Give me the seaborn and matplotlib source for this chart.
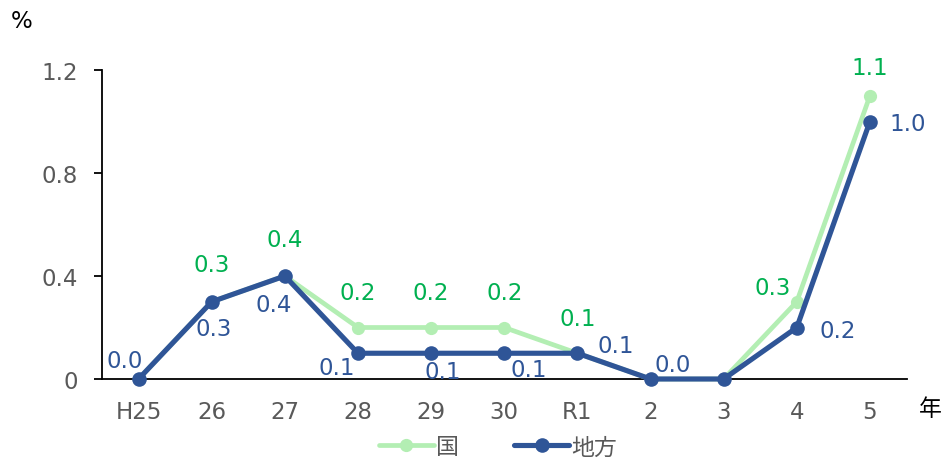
import matplotlib
matplotlib.use("Agg")
import matplotlib.pyplot as plt
import seaborn as sns
import pandas as pd
from matplotlib.lines import Line2D

categories = ["H25", "26", "27", "28", "29", "30", "R1", "2", "3", "4", "5"]
kuni = [0.0, 0.3, 0.4, 0.2, 0.2, 0.2, 0.1, 0.0, 0.0, 0.3, 1.1]
chiho = [0.0, 0.3, 0.4, 0.1, 0.1, 0.1, 0.1, 0.0, 0.0, 0.2, 1.0]
series_names = ["国", "地方"]
yticks = [0, 0.4, 0.8, 1.2]
ytick_labels = ["0", "0.4", "0.8", "1.2"]

# label display and pixel offsets for placement
kuni_show = [False, True, True, True, True, True, True, False, False, True, True]
kuni_off = [(0, 0), (0, 37), (0, 36), (0, 35), (0, 35), (0, 35), (0, 35),
            (0, 0), (0, 0), (-24, 14), (0, 28)]
chiho_show = [True, True, True, True, True, True, True, True, False, True, True]
chiho_off = [(-14, 18), (2, -27), (-11, -29), (-21, -14), (12, -18), (24, -16),
             (38, 8), (22, 14), (0, 0), (41, -3), (38, -2)]

sns.set_style("ticks")
plt.rcParams["font.family"] = ["DejaVu Sans", "Noto Sans CJK JP"]

GREEN_LINE = "#B3EEB3"
GREEN_TXT = "#00B050"
BLUE = "#2F5597"
GRAY = "#595959"
FS = 16.5

fig = plt.figure(figsize=(9.42, 4.6), dpi=100)
ax = fig.add_axes([102 / 942, 80 / 460, (906.5 - 102) / 942, (380 - 71) / 460])

df = pd.DataFrame({
    "cat": categories * 2,
    "val": kuni + chiho,
    "series": [series_names[0]] * len(categories) + [series_names[1]] * len(categories),
})

sns.lineplot(data=df[df.series == series_names[0]], x="cat", y="val", ax=ax,
             color=GREEN_LINE, lw=3.4, marker="o", markersize=9.5,
             markeredgewidth=0, sort=False, clip_on=False, zorder=3)
sns.lineplot(data=df[df.series == series_names[1]], x="cat", y="val", ax=ax,
             color=BLUE, lw=3.7, marker="o", markersize=10.5,
             markeredgewidth=0, sort=False, clip_on=False, zorder=4)

for i, c in enumerate(categories):
    if kuni_show[i]:
        ax.annotate(f"{kuni[i]:.1f}", (i, kuni[i]), xytext=(kuni_off[i][0] * 0.72, kuni_off[i][1] * 0.72),
                    textcoords="offset points", ha="center", va="center",
                    color=GREEN_TXT, fontsize=FS, zorder=5)
    if chiho_show[i]:
        ax.annotate(f"{chiho[i]:.1f}", (i, chiho[i]), xytext=(chiho_off[i][0] * 0.72, chiho_off[i][1] * 0.72),
                    textcoords="offset points", ha="center", va="center",
                    color=BLUE, fontsize=FS, zorder=5)

ax.set_xlim(-0.5, 10.5)
ax.set_ylim(0, 1.2)
ax.set_yticks(yticks)
ax.set_yticklabels(ytick_labels)
ax.set_xlabel("")
ax.set_ylabel("")
for s in ["top", "right"]:
    ax.spines[s].set_visible(False)
for s in ["left", "bottom"]:
    ax.spines[s].set_color("black")
    ax.spines[s].set_linewidth(1.3)
ax.tick_params(axis="y", length=5.5, width=1.3, color="black", labelsize=FS, labelcolor=GRAY, pad=12)
ax.tick_params(axis="x", length=0, labelsize=FS, labelcolor=GRAY, pad=15)

fig.text(22 / 942, 1 - 22 / 460, "%", fontsize=FS, color="black", ha="center", va="center")
fig.text(930 / 942, 1 - 410 / 460, "年", fontsize=FS, color="black", ha="center", va="center")

handles = [
    Line2D([0], [0], color=GREEN_LINE, lw=3.4, marker="o", markersize=9.5, markeredgewidth=0),
    Line2D([0], [0], color=BLUE, lw=3.7, marker="o", markersize=10.5, markeredgewidth=0),
]
leg = fig.legend(handles, series_names, loc="center", bbox_to_anchor=(498 / 942, 1 - 448 / 460),
                 ncol=2, frameon=False, fontsize=FS, handlelength=2.4, columnspacing=2.4,
                 handletextpad=0.1)
for t in leg.get_texts():
    t.set_color(GRAY)

fig.savefig("out.png", dpi=100)
